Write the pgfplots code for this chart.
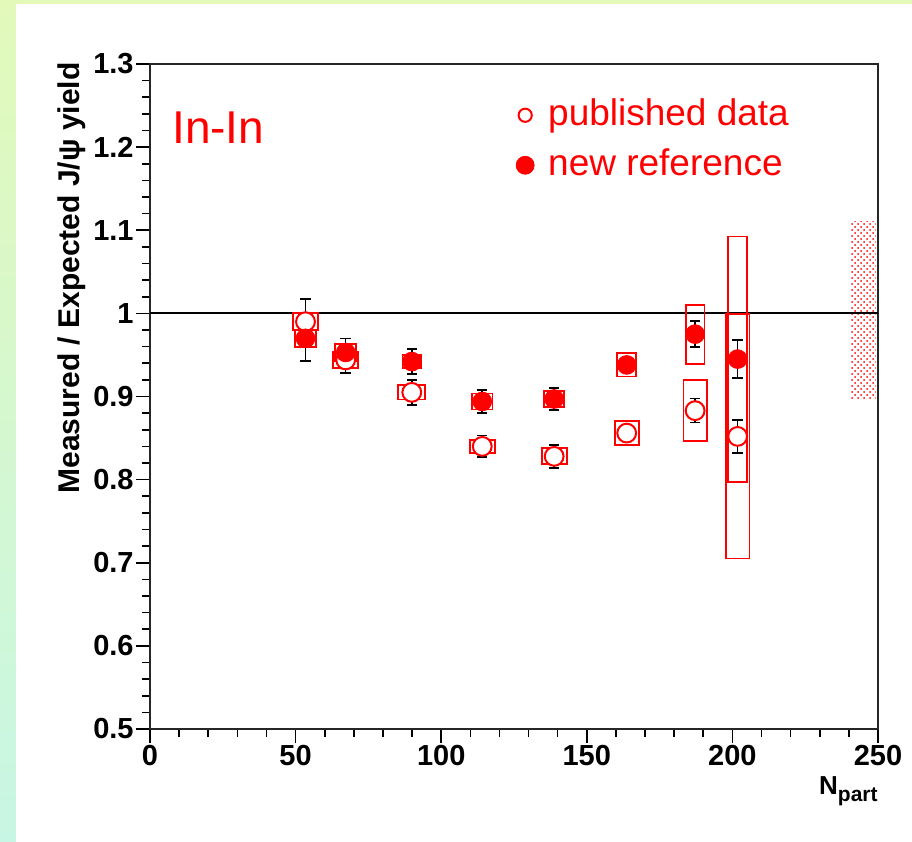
\documentclass[border=0pt]{standalone}
\usepackage{pgfplots}
\pgfplotsset{compat=1.18}
\usepackage{pgfplotstable}
\usepackage{fontspec}
\setmainfont{Liberation Sans}
\usetikzlibrary{patterns}

\pgfplotstableread{
x y ey bx by
53.4 0.990 0.027 4.2 0.010
67.2 0.944 0.016 4.3 0.010
89.9 0.905 0.015 4.6 0.0085
114.1 0.840 0.013 4.3 0.008
138.8 0.828 0.014 4.3 0.0096
163.7 0.856 0.008 4.1 0.0145
187.2 0.883 0.0145 4.0 0.0365
201.8 0.852 0.020 4.1 0.147
}\published

\pgfplotstableread{
x y ey bx by
53.4 0.970 0.027 3.5 0.010
67.2 0.953 0.017 3.6 0.010
89.9 0.942 0.015 3.2 0.008
114.1 0.894 0.0135 3.5 0.0096
138.8 0.897 0.0135 3.4 0.0096
163.7 0.938 0.009 3.3 0.014
187.2 0.975 0.0155 3.2 0.0355
201.8 0.945 0.023 3.2 0.1475
}\newref

\pgfplotstableread{
x y
240.4 0.896
249.3 0.896
249.3 1.110
240.4 1.110
}\globalband

\definecolor{bgtop}{RGB}{226,249,186}
\definecolor{bgbot}{RGB}{200,246,228}

\begin{document}
\begin{tikzpicture}
\useasboundingbox (0,0) rectangle (456pt,421pt);
\shade[top color=bgtop, bottom color=bgbot] (0,0) rectangle (456pt,421pt);
\fill[white] (8pt,0) rectangle (456pt,419pt);
\begin{axis}[
  at={(75pt,56.5pt)}, anchor=south west,
  scale only axis, width=364pt, height=332.5pt,
  xmin=0, xmax=250, ymin=0.5, ymax=1.3,
  xtick={0,50,...,250}, ytick={0.5,0.6,...,1.31},
  minor x tick num=4, minor y tick num=4,
  xtick pos=bottom, ytick pos=left,
  tick align=outside,
  major tick length=7pt, minor tick length=4pt,
  every tick/.style={black, line width=0.8pt},
  axis line style={black!85, line width=0.9pt},
  /pgf/number format/assume math mode=true,
  tick label style={font=\bfseries\fontsize{14.5}{16}\selectfont, inner sep=1pt},
  every axis x label/.style={at={(axis description cs:1,0)}, anchor=base east, yshift=-33pt, inner sep=0pt},
  every axis y label/.style={at={(axis description cs:-0.0975,1.003)}, rotate=90, anchor=base east, inner sep=0pt},
  xlabel={\bfseries\fontsize{13}{15}\selectfont N\raisebox{-3.3pt}{\fontsize{10.5}{12}\selectfont part}},
  ylabel={\bfseries\fontsize{15}{17}\selectfont Measured / Expected J/ψ yield},
  legend style={at={(axis description cs:0.503,0.950)}, anchor=north west,
    draw=none, fill=none, inner sep=0pt, outer sep=0pt,
    font=\fontsize{18.5}{22}\selectfont, text=red,
    nodes={text height=14pt, text depth=4pt, inner sep=0pt},
    row sep=7pt, column sep=7pt},
  legend cell align=left,
  legend image code/.code={\draw[#1] plot coordinates {(0pt,0pt)};},
]
% global systematic band
\addplot[forget plot, draw=none, fill=red!20, pattern=crosshatch dots, pattern color=red] table {\globalband};

% systematic boxes
\addplot[forget plot, draw=none, mark=none,
  visualization depends on={2*1.456*\thisrow{bx} \as \bw},
  visualization depends on={2*415.625*\thisrow{by} \as \bh},
  nodes near coords={},
  every node near coord/.style={anchor=center, draw=red, line width=0.9pt,
    minimum width=\bw pt, minimum height=\bh pt, inner sep=0pt}]
  table[x=x, y=y] {\published};
\addplot[forget plot, draw=none, mark=none,
  visualization depends on={2*1.456*\thisrow{bx} \as \bw},
  visualization depends on={2*415.625*\thisrow{by} \as \bh},
  nodes near coords={},
  every node near coord/.style={anchor=center, draw=red, line width=0.9pt,
    minimum width=\bw pt, minimum height=\bh pt, inner sep=0pt}]
  table[x=x, y=y] {\newref};

% markers
\addplot[forget plot, only marks, mark=*, mark size=4.7pt,
  mark options={draw=red, fill=white, line width=1pt}]
  table[x=x, y=y] {\published};
\addplot[forget plot, only marks, mark=*, mark size=4.7pt,
  mark options={draw=red, fill=red}]
  table[x=x, y=y] {\newref};

% reference line
\addplot[forget plot, black, line width=1pt] coordinates {(0,1) (250,1)};

% statistical error bars
\addplot[forget plot, draw=none, mark=none,
  error bars/.cd, y dir=both, y explicit,
  error bar style={draw=black, line width=0.8pt},
  error mark options={draw=black, rotate=90, mark size=2.6pt, line width=0.8pt}]
  table[x=x, y=y, y error=ey] {\published};
\addplot[forget plot, draw=none, mark=none,
  error bars/.cd, y dir=both, y explicit,
  error bar style={draw=black, line width=0.8pt},
  error mark options={draw=black, rotate=90, mark size=2.6pt, line width=0.8pt}]
  table[x=x, y=y, y error=ey] {\newref};

\addlegendimage{only marks, mark=o, red, mark size=3.3pt, line width=1pt}
\addlegendentry{published data}
\addlegendimage{only marks, mark=*, red, mark size=4.5pt}
\addlegendentry{new reference}

\node[anchor=base west, text=red, font=\fontsize{23}{26}\selectfont, inner sep=0pt]
  at (axis description cs:0.030,0.881) {In-In};
\end{axis}
\end{tikzpicture}
\end{document}
